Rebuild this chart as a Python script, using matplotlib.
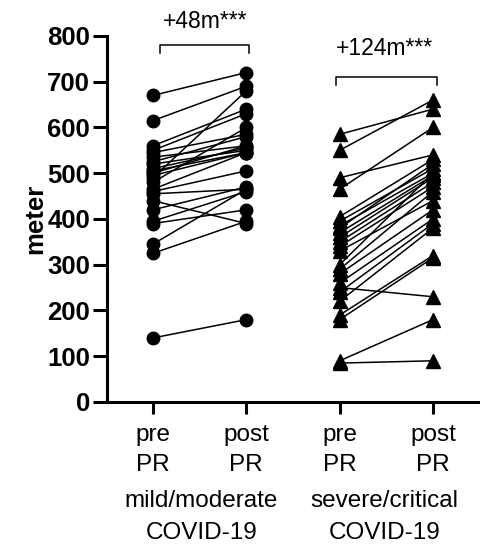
import numpy as np
import matplotlib
matplotlib.use("Agg")
import matplotlib.pyplot as plt

plt.rcParams["font.family"] = ["Liberation Sans", "DejaVu Sans"]

# 6MWT distance (meter), paired pre/post PR
mild_pre = [670, 615, 560, 550, 545, 535, 525, 520, 510, 505, 500, 495,
            490, 480, 465, 460, 455, 440, 420, 395, 390, 345, 325, 140]
mild_post = [720, 690, 640, 630, 585, 560, 580, 550, 555, 545, 560, 545,
             680, 600, 545, 505, 465, 390, 470, 460, 420, 465, 395, 180]
sev_pre = [585, 550, 490, 465, 405, 395, 385, 380, 370, 360, 350, 340,
           330, 300, 290, 280, 260, 250, 240, 220, 190, 180, 90, 85]
sev_post = [640, 660, 540, 600, 530, 510, 500, 520, 495, 490, 480, 470,
            440, 500, 460, 420, 400, 230, 390, 380, 320, 315, 180, 90]
tick_labels = ["pre\nPR", "post\nPR", "pre\nPR", "post\nPR"]
groups = ["mild/moderate\nCOVID-19", "severe/critical\nCOVID-19"]
diffs = ["+48m***", "+124m***"]

fig = plt.figure(figsize=(4.81, 5.58), dpi=100)
ax = fig.add_axes([0.2218, 0.2796, 0.7782, 0.656])

for a, b in zip(mild_pre, mild_post):
    ax.plot([0, 1], [a, b], color="black", lw=1.1, marker="o", ms=9,
            mec="black", mfc="black", clip_on=False, zorder=3)
for a, b in zip(sev_pre, sev_post):
    ax.plot([2, 3], [a, b], color="black", lw=1.1, marker="^", ms=10,
            mec="black", mfc="black", clip_on=False, zorder=3)

ax.set_xlim(-0.496, 3.515)
ax.set_ylim(0, 800)
ax.set_yticks(range(0, 801, 100))
ax.set_xticks([0, 1, 2, 3])
ax.set_xticklabels(tick_labels, fontsize=17.5, linespacing=1.5)
ax.tick_params(axis="y", length=10, width=2.2, labelsize=18.5, pad=2)
ax.tick_params(axis="x", length=8.5, width=2.2, pad=7)
for lbl in ax.get_yticklabels():
    lbl.set_fontweight("bold")
ax.set_ylabel("meter", fontsize=18.5, fontweight="bold", labelpad=0)

for s in ("top", "right"):
    ax.spines[s].set_visible(False)
for s in ("left", "bottom"):
    ax.spines[s].set_linewidth(2.2)

# group labels
for gx, g in zip([0.52, 2.48], groups):
    ax.text(gx, -0.241, g, transform=ax.get_xaxis_transform(), ha="center",
            va="top", fontsize=17.5, linespacing=1.55)

# brackets with mean difference
for (x0, x1), yb, yt, xt, txt in [((0.08, 1.03), 780, 817, 0.557, diffs[0]),
                                  ((1.96, 3.04), 710, 758, 2.48, diffs[1])]:
    ax.plot([x0, x0, x1, x1], [yb - 17, yb, yb, yb - 17], color="black",
            lw=1.1, clip_on=False)
    ax.text(xt, yt, txt, ha="center", va="baseline", fontsize=16.5,
            clip_on=False)

fig.savefig("out.png", dpi=100, facecolor="white")
